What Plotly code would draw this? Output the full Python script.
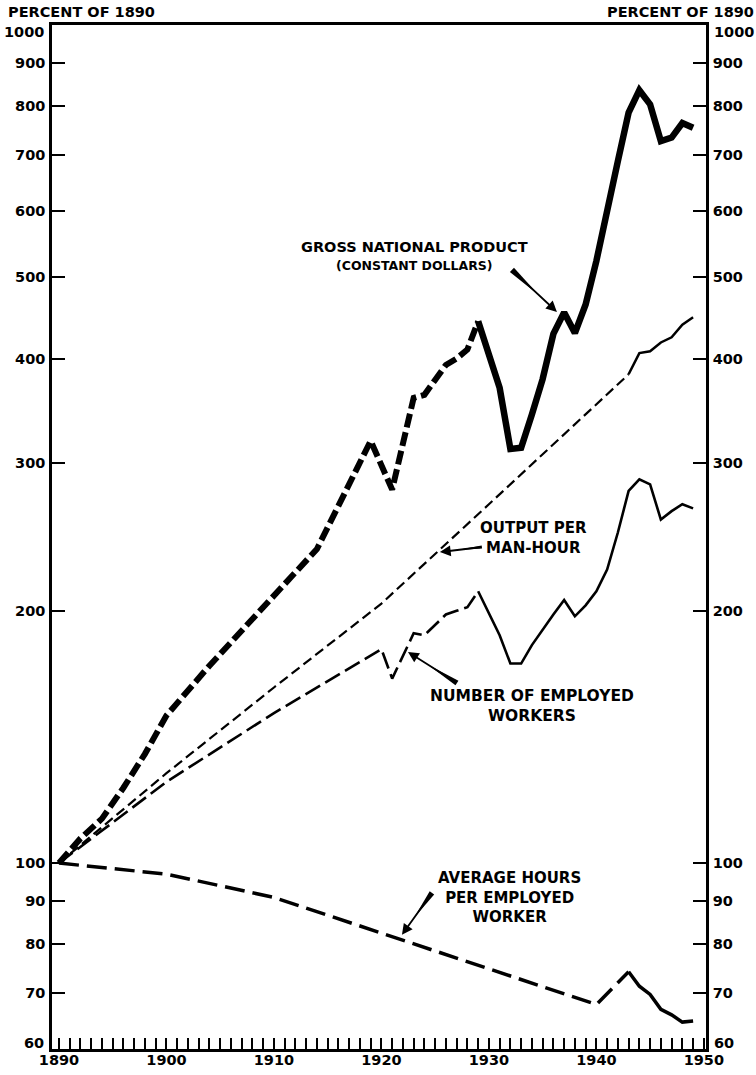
import math
import plotly.graph_objects as go

# ---- data: percent of 1890 ----
# Gross national product (constant dollars)
gnp_early_years = [1890, 1892, 1894, 1896, 1898, 1900, 1904, 1914, 1919, 1921,
                   1923, 1924, 1926, 1927, 1928, 1929]
gnp_early = [100, 107, 113, 123, 135, 150, 172, 237, 319, 279,
             359, 362, 393, 400, 410, 443]
gnp_annual_years = list(range(1929, 1950))
gnp_annual = [443, 404, 369, 312, 313, 343, 378, 428, 454, 429, 464,
              523, 594, 688, 786, 836, 804, 727, 734, 764, 754]

# Output per man-hour
oph_early_years = [1890, 1900, 1910, 1920, 1930, 1940, 1943]
oph_early = [100, 128, 162, 204, 268, 352, 383]
oph_annual_years = list(range(1943, 1950))
oph_annual = [383, 406, 408, 418, 424, 439, 448]

# Number of employed workers
emp_early_years = [1890, 1900, 1910, 1920, 1921, 1923, 1924, 1926, 1927, 1928, 1929]
emp_early = [100, 125, 151, 180, 166, 188, 187, 198, 200, 202, 211]
emp_annual_years = list(range(1929, 1950))
emp_annual = [211, 199, 187, 173, 173, 182, 190, 198, 206, 197, 203,
              211, 224, 248, 278, 287, 283, 257, 263, 268, 265]

# Average hours per employed worker
hrs_early_years = [1890, 1900, 1910, 1920, 1930, 1940, 1943]
hrs_early = [100, 97, 91, 82.5, 74.8, 67.8, 74.2]
hrs_annual_years = list(range(1943, 1950))
hrs_annual = [74.2, 71.3, 69.7, 66.9, 65.9, 64.6, 64.8]

# ---- axis ticks ----
year_ticks = list(range(1890, 1951))
year_labels = [str(y) if y % 10 == 0 else "" for y in year_ticks]
pct_ticks = [70, 80, 90, 100, 200, 300, 400, 500, 600, 700, 800, 900]
pct_labels = [str(v) for v in pct_ticks]
pct_ends = ["60", "1000"]  # range ends, set just inside the frame

W, H = 756, 1075
M_L, M_R, M_T, M_B = 52, 50, 25, 26
PLOT_W = W - M_L - M_R
PLOT_H = H - M_T - M_B
X_RANGE = [1889.35, 1950.2]
Y_RANGE = [math.log10(60), 3]

FONT = "DejaVu Sans"
INK = "#000000"


def paper_x(px):
    return (px - M_L) / PLOT_W


def paper_y(py):
    return (H - M_B - py) / PLOT_H


def to_px(year, value):
    x = M_L + (year - X_RANGE[0]) / (X_RANGE[1] - X_RANGE[0]) * PLOT_W
    y = M_T + (Y_RANGE[1] - math.log10(value)) / (Y_RANGE[1] - Y_RANGE[0]) * PLOT_H
    return x, y


fig = go.Figure()


def add_line(xs, ys, width, dash, yaxis="y"):
    fig.add_trace(go.Scatter(
        x=xs, y=ys, mode="lines", yaxis=yaxis,
        line=dict(color=INK, width=width, dash=dash),
        showlegend=False, hoverinfo="skip",
    ))


add_line(gnp_early_years, gnp_early, 6, "14px,5px")
add_line(gnp_annual_years, gnp_annual, 6.5, "solid")
add_line(oph_early_years, oph_early, 2.2, "10px,5px")
add_line(oph_annual_years, oph_annual, 2.5, "solid")
add_line(emp_early_years, emp_early, 2.6, "17px,6px")
add_line(emp_annual_years, emp_annual, 2.6, "solid")
add_line(hrs_early_years, hrs_early, 3.5, "20px,8px")
# the right-hand percent scale carries the last series segment
add_line(hrs_annual_years, hrs_annual, 3.5, "solid", yaxis="y2")

tick_font = dict(family=FONT, size=14.5, color=INK, weight="bold")

y_common = dict(
    type="log", range=Y_RANGE, tickvals=pct_ticks, ticktext=pct_labels,
    ticks="inside", ticklen=13, tickwidth=2, tickcolor=INK,
    showline=True, linewidth=2.5, linecolor=INK,
    showgrid=False, zeroline=False, tickfont=tick_font,
    ticklabelstandoff=1, automargin=False,
)

fig.update_layout(
    width=W, height=H,
    margin=dict(l=M_L, r=M_R, t=M_T, b=M_B, autoexpand=False),
    paper_bgcolor="white", plot_bgcolor="white",
    xaxis=dict(
        range=X_RANGE, tickvals=year_ticks, ticktext=year_labels,
        ticks="inside", ticklen=11, tickwidth=1.5, tickcolor=INK,
        showline=True, linewidth=2.5, linecolor=INK, mirror=True,
        showgrid=False, zeroline=False, tickfont=tick_font,
        ticklabelstandoff=-4, automargin=False,
    ),
    yaxis=dict(**y_common),
    yaxis2=dict(**y_common, overlaying="y", side="right"),
)

annotations = []
shapes = []


def bold(size):
    return dict(family=FONT, size=size, color=INK, weight="bold")


# axis captions
annotations.append(dict(text="PERCENT OF 1890", xref="paper", yref="paper",
                        x=paper_x(6), y=paper_y(12), xanchor="left", yanchor="middle",
                        showarrow=False, font=bold(14.5)))
annotations.append(dict(text="PERCENT OF 1890", xref="paper", yref="paper",
                        x=paper_x(756), y=paper_y(12), xanchor="right", yanchor="middle",
                        showarrow=False, font=bold(14.5)))

# end labels of the percent scale, both sides
for text, py in zip(pct_ends, [1043, 32]):
    annotations.append(dict(text=text, xref="paper", yref="paper",
                            x=paper_x(46), y=paper_y(py), xanchor="right", yanchor="middle",
                            showarrow=False, font=tick_font))
    annotations.append(dict(text=text, xref="paper", yref="paper",
                            x=paper_x(712), y=paper_y(py), xanchor="left", yanchor="middle",
                            showarrow=False, font=tick_font))

# series labels: (text, centre x px, centre y px, size)
labels = [
    ("GROSS NATIONAL PRODUCT", 414, 247, 14.5),
    ("(CONSTANT DOLLARS)", 414, 265, 12.5),
    ("OUTPUT PER<br>MAN-HOUR", 533, 538, 15),
    ("NUMBER OF EMPLOYED<br>WORKERS", 532, 706, 15.5),
    ("AVERAGE HOURS<br>PER EMPLOYED<br>WORKER", 510, 897, 15),
]
for text, cx, cy, size in labels:
    annotations.append(dict(text=text, xref="paper", yref="paper",
                            x=paper_x(cx), y=paper_y(cy), xanchor="center", yanchor="middle",
                            align="center", showarrow=False, font=bold(size)))

# leader arrows: head at (year, value), tail offset in pixels, tail wedge width
arrows = [
    (1936.33, 454.6, -45, -42, 6.0),
    (1925.44, 235.0, 42, -5, 3.0),
    (1922.47, 178.6, 49, 31, 5.5),
    (1921.91, 82.1, 30, -42, 5.5),
]
for yr, val, ax, ay, wedge in arrows:
    annotations.append(dict(text="", x=yr, y=math.log10(val), xref="x", yref="y",
                            showarrow=True, ax=ax, ay=ay, arrowhead=2, arrowsize=1.2,
                            arrowwidth=1.8, arrowcolor=INK))
    # tapered tail of the leader
    hx, hy = to_px(yr, val)
    tx, ty = hx + ax, hy + ay
    length = math.hypot(hx - tx, hy - ty)
    dx, dy = (hx - tx) / length, (hy - ty) / length
    nx, ny = -dy, dx
    tip = (tx + dx * length * 0.6, ty + dy * length * 0.6)
    pts = [(tx + nx * wedge / 2, ty + ny * wedge / 2),
           (tx - nx * wedge / 2, ty - ny * wedge / 2), tip]
    path = "M " + " L ".join(f"{paper_x(px):.5f},{paper_y(py):.5f}" for px, py in pts) + " Z"
    shapes.append(dict(type="path", path=path, xref="paper", yref="paper",
                       fillcolor=INK, line=dict(width=0)))

fig.update_layout(annotations=annotations, shapes=shapes)

fig.write_html("out.html")
